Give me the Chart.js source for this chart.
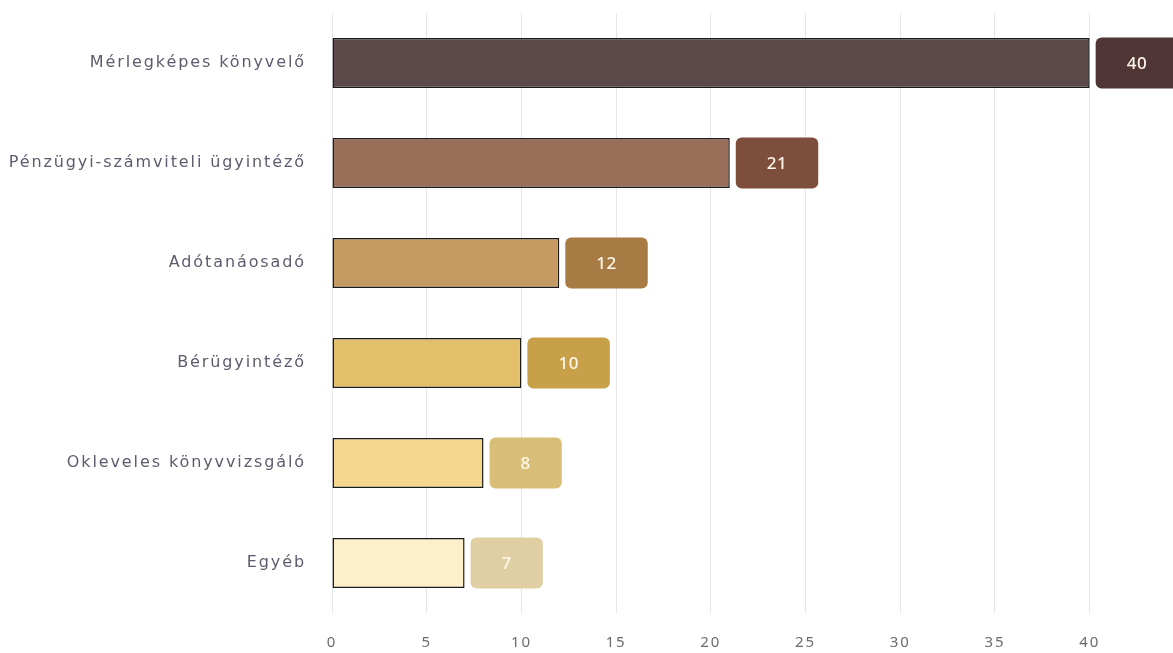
<!DOCTYPE html>
<html>
<head>
<meta charset="utf-8">
<script src="https://cdn.jsdelivr.net/npm/chart.js@4"></script>
<style>
  html, body { margin: 0; padding: 0; background: #ffffff; }
  #wrap { width: 1173px; height: 653px; position: relative; }
</style>
</head>
<body>
<div id="wrap"><canvas id="chart"></canvas></div>
<script>
// --- data ---
const categories = [
    'Mérlegképes könyvelő',
    'Pénzügyi-számviteli ügyintéző',
    'Adótanáosadó',
    'Bérügyintéző',
    'Okleveles könyvvizsgáló',
    'Egyéb'
];
const counts = [40, 21, 12, 10, 8, 7];
const xTicks = [0, 5, 10, 15, 20, 25, 30, 35, 40];

// --- styles ---
const barColors = ['#5d4949', '#9a6f5a', '#c59a63', '#e3bf6c', '#f4d78d', '#fdefca'];
const boxColors = ['#4f3535', '#7d4e3b', '#a87a44', '#c8a04a', '#d8be76', '#e0cfa3'];

// espacement des lettres (police de référence plus large)
const spacingPlugin = {
    id: 'spacingPlugin',
    beforeDraw(chart) {
        chart.ctx.letterSpacing = '1.9px';
    }
};

// boîtes de valeur à droite des barres
const valueBoxPlugin = {
    id: 'valueBoxPlugin',
    afterDatasetsDraw(chart) {
        const { ctx } = chart;
        const meta = chart.getDatasetMeta(0);
        ctx.save();
        ctx.letterSpacing = '0.5px';
        ctx.font = '500 17px "Noto Sans", sans-serif';
        ctx.textAlign = 'center';
        ctx.textBaseline = 'middle';
        meta.data.forEach((bar, i) => {
            const txt = String(counts[i]);
            const w = ctx.measureText(txt).width + 62;
            const h = bar.height + 1;
            const x = bar.x + 6;
            const y = bar.y - h / 2;
            ctx.fillStyle = boxColors[i];
            ctx.beginPath();
            ctx.roundRect(x, y, w, h, 6);
            ctx.fill();
            ctx.fillStyle = '#fff8ea';
            ctx.fillText(txt, x + w / 2, bar.y + 1);
        });
        ctx.restore();
    }
};

new Chart(document.getElementById('chart'), {
    type: 'bar',
    data: {
        labels: categories,
        datasets: [{
            data: counts,
            backgroundColor: barColors,
            borderColor: '#1b1b1b',
            borderWidth: 1.5,
            borderSkipped: false,
            barPercentage: 0.5,
            categoryPercentage: 1
        }]
    },
    plugins: [spacingPlugin, valueBoxPlugin],
    options: {
        indexAxis: 'y',
        responsive: true,
        maintainAspectRatio: false,
        animation: false,
        layout: { padding: { top: 13, right: 0, left: 0, bottom: 0 } },
        plugins: {
            legend: { display: false },
            tooltip: { enabled: false }
        },
        scales: {
            x: {
                min: 0,
                max: 44.4,
                afterBuildTicks(axis) {
                    axis.ticks = xTicks.map(v => ({ value: v }));
                },
                afterFit(scale) {
                    scale.height = 40;
                    scale.paddingLeft = 0;
                    scale.paddingRight = 0;
                },
                grid: { color: '#e6e6e8', drawTicks: false },
                border: { display: false },
                ticks: {
                    padding: 21,
                    color: '#6b6b70',
                    font: { family: '"Noto Sans", sans-serif', size: 15 }
                }
            },
            y: {
                afterFit(scale) {
                    scale.width = 332;
                    scale.paddingTop = 0;
                    scale.paddingBottom = 0;
                },
                grid: { display: false, drawTicks: false },
                border: { display: false },
                ticks: {
                    padding: 26,
                    color: '#5c5c6e',
                    font: { family: '"DejaVu Sans", sans-serif', size: 16, weight: 'normal' }
                }
            }
        }
    }
});
</script>
</body>
</html>
